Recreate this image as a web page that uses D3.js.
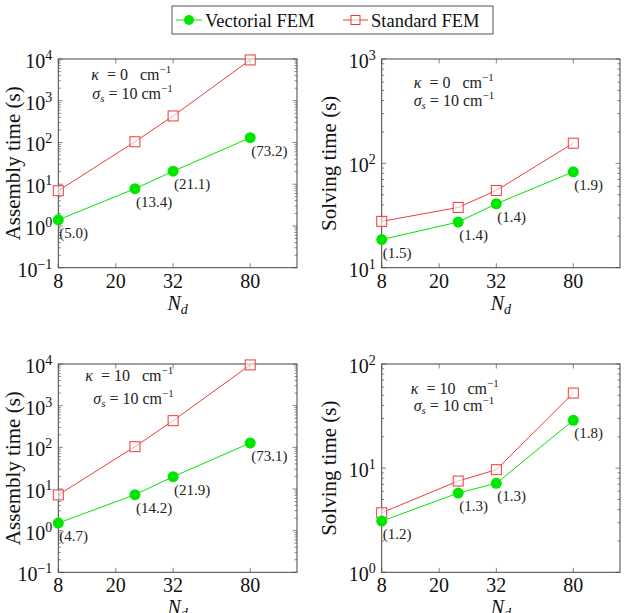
<!DOCTYPE html>
<html><head><meta charset="utf-8">
<script src="https://cdn.jsdelivr.net/npm/d3@7"></script>
<style>
html,body{margin:0;padding:0;background:#fff;}
svg{display:block;}
text{font-family:"Liberation Serif","Times New Roman","DejaVu Serif",serif;}
</style></head>
<body><svg id="c" width="626" height="613" font-family="Liberation Serif, Times New Roman, DejaVu Serif, serif"></svg>
<script>
// ---- data ----
const Nd = [8, 24, 32, 80];
const xTicks = [8, 20, 32, 80];
const seriesNames = ["Vectorial FEM", "Standard FEM"];

const asmK0Vec = [1.4, 7.8, 20.5, 130];
const asmK0Std = [7.0, 104, 432, 9500];
const asmK0Lab = ["(5.0)", "(13.4)", "(21.1)", "(73.2)"];

const solK0Vec = [18.6, 27.4, 41, 83];
const solK0Std = [27.8, 37.8, 55, 156];
const solK0Lab = ["(1.5)", "(1.4)", "(1.4)", "(1.9)"];

const asmK10Vec = [1.52, 7.3, 19.7, 127];
const asmK10Std = [7.2, 103.5, 436, 9500];
const asmK10Lab = ["(4.7)", "(14.2)", "(21.9)", "(73.1)"];

const solK10Vec = [3.1, 5.77, 7.15, 28.8];
const solK10Std = [3.73, 7.52, 9.66, 52.6];
const solK10Lab = ["(1.2)", "(1.3)", "(1.3)", "(1.8)"];

const kappaVals = ["0", "10"];
const yExpAsm = [-1, 4];
const yExpSolK0 = [1, 3];
const yExpSolK10 = [0, 2];

// ---- layout ----
const GREEN = "#00e600", RED = "#f03a3a";
const FONT = "Liberation Serif, Times New Roman, DejaVu Serif, serif";
const svg = d3.select("#c");
const panels = [
  {l:58.3, t:59, r:297, b:267.7, vec:asmK0Vec, std:asmK0Std, lab:asmK0Lab, exp:yExpAsm, ylabel:"Assembly time (s)", kappa:kappaVals[0],
   ylx:-46, ann:{kx:33, ky:21, sx:34, sy:40}},
  {l:381.7, t:59, r:620, b:267.7, vec:solK0Vec, std:solK0Std, lab:solK0Lab, exp:yExpSolK0, ylabel:"Solving time (s)", kappa:kappaVals[0],
   ylx:-53, ann:{kx:32, ky:29, sx:32, sy:47}},
  {l:58.3, t:364, r:297, b:572.3, vec:asmK10Vec, std:asmK10Std, lab:asmK10Lab, exp:yExpAsm, ylabel:"Assembly time (s)", kappa:kappaVals[1],
   ylx:-46, ann:{kx:27, ky:17, sx:35, sy:40}},
  {l:381.7, t:364, r:620, b:572.3, vec:solK10Vec, std:solK10Std, lab:solK10Lab, exp:yExpSolK10, ylabel:"Solving time (s)", kappa:kappaVals[1],
   ylx:-53, ann:{kx:29, ky:30, sx:32, sy:47}}
];

function drawPanel(p) {
  const w = p.r - p.l, h = p.b - p.t;
  const g = svg.append("g").attr("transform", `translate(${p.l},${p.t})`).attr("font-family", FONT);
  const x = d3.scaleLinear().domain(xTicks).range([0, 0.241*w, 0.481*w, 0.804*w]);
  const y = d3.scaleLog().domain([Math.pow(10,p.exp[0]), Math.pow(10,p.exp[1])]).range([h, 0]);

  const majors = d3.range(p.exp[0], p.exp[1]+1).map(e => Math.pow(10,e));
  const minors = [];
  for (let e = p.exp[0]; e < p.exp[1]; e++) for (let k = 2; k <= 9; k++) minors.push(k*Math.pow(10,e));
  const tk = g.append("g").attr("stroke", "#666").attr("stroke-width", 0.8);
  minors.forEach(v => {
    tk.append("line").attr("x1",0).attr("x2",2.5).attr("y1",y(v)).attr("y2",y(v));
    tk.append("line").attr("x1",w).attr("x2",w-2.5).attr("y1",y(v)).attr("y2",y(v));
  });
  majors.forEach(v => {
    tk.append("line").attr("x1",0).attr("x2",4.5).attr("y1",y(v)).attr("y2",y(v));
    tk.append("line").attr("x1",w).attr("x2",w-4.5).attr("y1",y(v)).attr("y2",y(v));
  });
  xTicks.forEach(v => {
    tk.append("line").attr("x1",x(v)).attr("x2",x(v)).attr("y1",h).attr("y2",h-4.5);
    tk.append("line").attr("x1",x(v)).attr("x2",x(v)).attr("y1",0).attr("y2",4.5);
  });
  g.append("rect").attr("width", w).attr("height", h).attr("fill","none").attr("stroke","#444").attr("stroke-width",1);

  majors.forEach((v, i) => {
    const e = p.exp[0] + i;
    const t = g.append("text").attr("x", -6).attr("y", y(v) + 9).attr("text-anchor","end")
      .attr("font-size", 20).attr("fill","#111");
    t.append("tspan").text("10");
    t.append("tspan").attr("dy", -8).attr("font-size", 14).text(e < 0 ? "\u2212" + (-e) : String(e));
  });
  xTicks.forEach(v => {
    g.append("text").attr("x", x(v)).attr("y", h + 20).attr("text-anchor","middle")
      .attr("font-size", 20).attr("fill","#111").text(v);
  });
  const xl = g.append("text").attr("x", w/2).attr("y", h + 42).attr("text-anchor","middle")
    .attr("font-size", 20).attr("fill","#111");
  xl.append("tspan").attr("font-style","italic").text("N");
  xl.append("tspan").attr("font-style","italic").attr("font-size",14).attr("dy",4).text("d");
  g.append("text").attr("transform", `translate(${p.ylx},${h/2}) rotate(-90)`)
    .attr("text-anchor","middle").attr("dy","0.35em").attr("font-size", 21).attr("fill","#111").text(p.ylabel);

  const a1 = g.append("text").attr("x", p.ann.kx).attr("y", p.ann.ky).attr("font-size", 16).attr("fill","#222")
    .attr("xml:space","preserve");
  a1.append("tspan").attr("font-style","italic").text("\u03BA");
  a1.append("tspan").text("  = " + p.kappa + "   cm");
  a1.append("tspan").attr("font-size", 11).attr("dy", -7).text("\u22121");
  const a2 = g.append("text").attr("x", p.ann.sx).attr("y", p.ann.sy).attr("font-size", 16).attr("fill","#222")
    .attr("xml:space","preserve");
  a2.append("tspan").attr("font-style","italic").text("\u03C3");
  a2.append("tspan").attr("font-style","italic").attr("font-size", 11).attr("dy", 3).text("s");
  a2.append("tspan").attr("dy", -3).text(" = 10 cm");
  a2.append("tspan").attr("font-size", 11).attr("dy", -7).text("\u22121");

  const line = d3.line().x((d,i) => x(Nd[i])).y(d => y(d));
  g.append("path").datum(p.std).attr("d", line).attr("fill","none").attr("stroke", RED).attr("stroke-width",1);
  g.append("path").datum(p.vec).attr("d", line).attr("fill","none").attr("stroke", GREEN).attr("stroke-width",1);
  g.selectAll(null).data(p.std).enter().append("rect")
    .attr("x", (d,i) => x(Nd[i]) - 5).attr("y", d => y(d) - 5).attr("width",10).attr("height",10)
    .attr("fill","#fff").attr("fill-opacity",0.6).attr("stroke", RED).attr("stroke-width",1);
  g.selectAll(null).data(p.vec).enter().append("circle")
    .attr("cx", (d,i) => x(Nd[i])).attr("cy", d => y(d)).attr("r", 5.5).attr("fill", GREEN);
  g.selectAll(null).data(p.vec).enter().append("text")
    .attr("x", (d,i) => x(Nd[i]) + 1).attr("y", d => y(d) + 18).attr("font-size", 15).attr("fill","#222")
    .text((d,i) => p.lab[i]);
}
panels.forEach(drawPanel);

const lg = svg.append("g").attr("font-family", FONT);
lg.append("rect").attr("x",172).attr("y",6).attr("width",321).attr("height",28).attr("fill","#fff").attr("stroke","#555");
lg.append("line").attr("x1",176).attr("x2",202).attr("y1",20).attr("y2",20).attr("stroke",GREEN);
lg.append("circle").attr("cx",189).attr("cy",20).attr("r",5).attr("fill",GREEN);
lg.append("text").attr("x",205).attr("y",26.5).attr("font-size",18.5).attr("fill","#111").text(seriesNames[0]);
lg.append("line").attr("x1",343).attr("x2",368).attr("y1",20).attr("y2",20).attr("stroke",RED);
lg.append("rect").attr("x",351).attr("y",15.5).attr("width",9).attr("height",9).attr("fill","#fff").attr("fill-opacity",0.6).attr("stroke",RED);
lg.append("text").attr("x",371).attr("y",26.5).attr("font-size",18.5).attr("fill","#111").text(seriesNames[1]);
</script></body></html>
